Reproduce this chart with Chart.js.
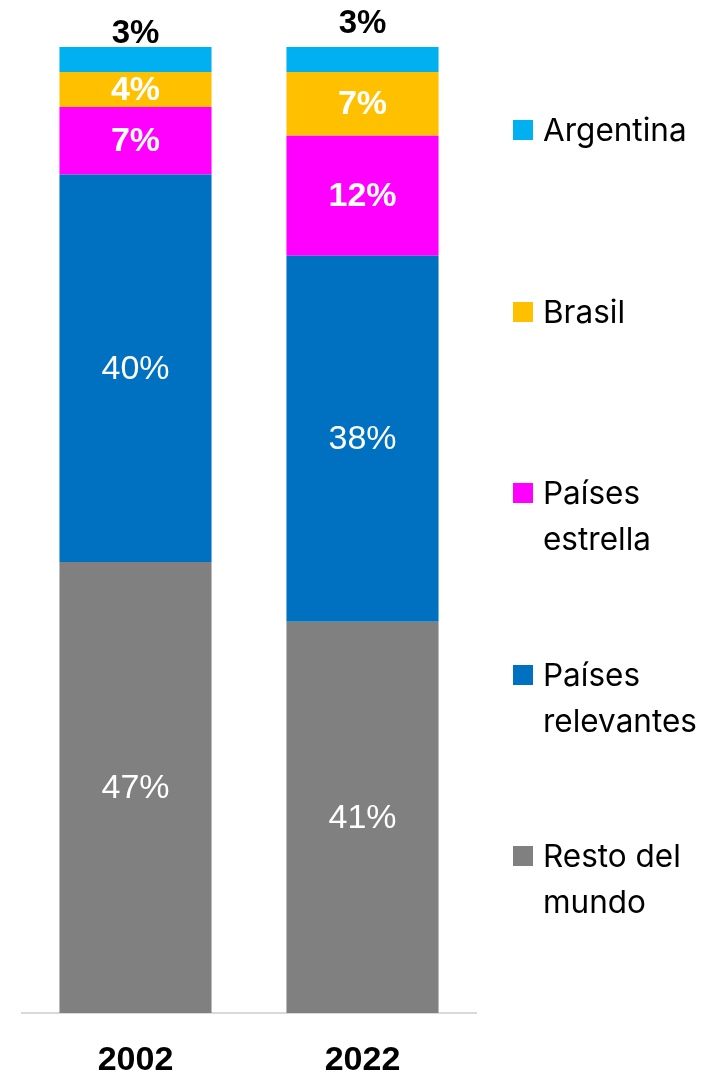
<!DOCTYPE html>
<html>
<head>
<meta charset="utf-8">
<script src="https://cdn.jsdelivr.net/npm/chart.js@4/dist/chart.umd.min.js"></script>
<style>
  html, body { margin: 0; padding: 0; background: #fff; }
  #wrap { position: relative; width: 704px; height: 1075px; }
  #legend { position: absolute; left: 0; top: 0; }
  .item { position: absolute; left: 513px; font-family: Inter, "Noto Sans", sans-serif; font-size: 31.5px; line-height: 46px; color: #000; white-space: nowrap; }
  .box { position: absolute; left: 0; top: 13px; width: 20px; height: 20px; }
  .txt { position: absolute; left: 30px; top: 0; }
</style>
</head>
<body>
<div id="wrap">
  <canvas id="chart" width="704" height="1075"></canvas>
  <div id="legend"></div>
</div>
<script>
const years = ['2002', '2022'];

// stack order, bottom to top
const seriesNames = ['Resto del mundo', 'Países relevantes', 'Países estrella', 'Brasil', 'Argentina'];
const resto      = [46.7, 40.5];
const relevantes = [40.1, 37.9];
const estrella   = [7.0, 12.4];
const brasil     = [3.6, 6.6];
const argentina  = [2.6, 2.6];

const colors = ['#808080', '#0070C0', '#FF00FF', '#FFC000', '#00B0F0'];
const legendLines = [['Resto del', 'mundo'], ['Países', 'relevantes'], ['Países', 'estrella'], ['Brasil'], ['Argentina']];

const seriesValues = [resto, relevantes, estrella, brasil, argentina];

const labelPlugin = {
  id: 'segLabels',
  afterDatasetsDraw(chart) {
    const ctx = chart.ctx;
    ctx.save();
    ctx.textAlign = 'center';
    ctx.textBaseline = 'middle';
    chart.data.datasets.forEach((ds, di) => {
      const meta = chart.getDatasetMeta(di);
      meta.data.forEach((bar, i) => {
        const txt = Math.round(ds.data[i]) + '%';
        if (di === 4) {
          // top segment label sits above the bar in black
          const off = i === 0 ? 13 : 23;
          ctx.fillStyle = '#000';
          ctx.font = 'bold 33px "Liberation Sans", Arial, sans-serif';
          ctx.fillText(txt, bar.x, bar.y - off);
        } else {
          ctx.fillStyle = '#fff';
          ctx.font = (di >= 2 ? 'bold ' : '') + '34px "Liberation Sans", Arial, sans-serif';
          ctx.fillText(txt, bar.x, (bar.y + bar.base) / 2 + 1);
        }
      });
    });
    ctx.restore();
  }
};

new Chart(document.getElementById('chart'), {
  type: 'bar',
  data: {
    labels: years,
    datasets: seriesNames.map((name, k) => ({
      label: name,
      data: seriesValues[k],
      backgroundColor: colors[k],
      borderWidth: 0,
      categoryPercentage: 1,
      barPercentage: 0.67
    }))
  },
  options: {
    responsive: false,
    animation: false,
    layout: { padding: { top: 47, left: 22, right: 228, bottom: 0 } },
    plugins: { legend: { display: false }, tooltip: { enabled: false } },
    scales: {
      x: {
        stacked: true,
        grid: { display: false, drawTicks: false },
        border: { display: true, color: '#d9d9d9', width: 2 },
        afterFit(scale) { scale.height = 62; },
        ticks: {
          color: '#000',
          padding: 31,
          font: { family: '"Liberation Sans", Arial, sans-serif', size: 34, weight: 'bold', lineHeight: 1 }
        }
      },
      y: {
        stacked: true,
        display: false,
        min: 0,
        max: 100
      }
    }
  },
  plugins: [labelPlugin]
});

// legend, top to bottom in reverse stack order
const legend = document.getElementById('legend');
for (let j = 0; j < seriesNames.length; j++) {
  const k = seriesNames.length - 1 - j;
  const item = document.createElement('div');
  item.className = 'item';
  item.style.top = (107 + j * 181.5) + 'px';
  const box = document.createElement('span');
  box.className = 'box';
  box.style.background = colors[k];
  const txt = document.createElement('span');
  txt.className = 'txt';
  txt.innerHTML = legendLines[k].join('<br>');
  item.appendChild(box);
  item.appendChild(txt);
  legend.appendChild(item);
}
</script>
</body>
</html>
